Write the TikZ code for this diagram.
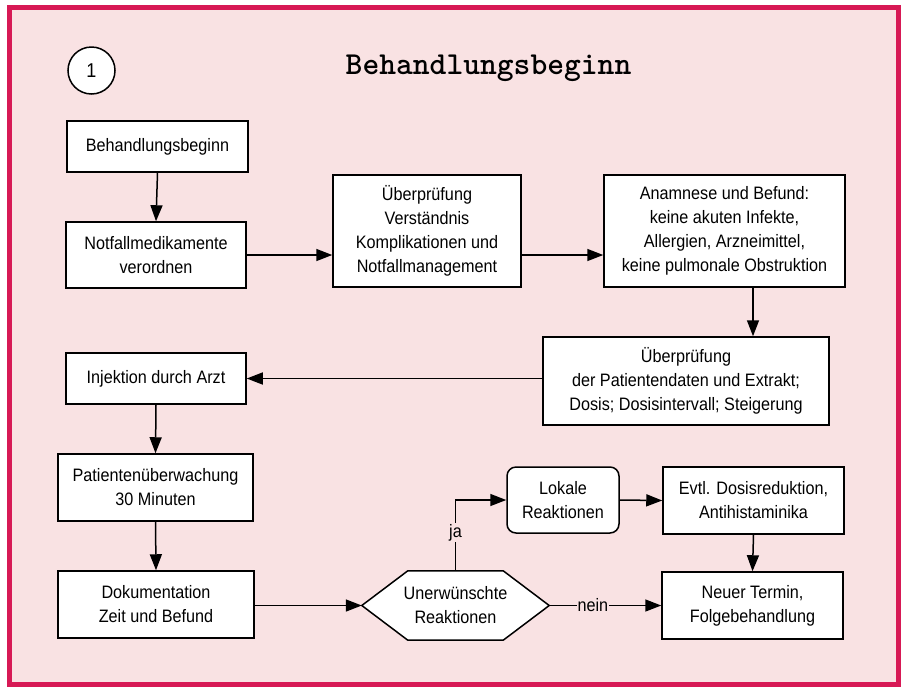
\documentclass[tikz,border=0pt]{standalone}
\usepackage{fontspec}
\setmainfont{Liberation Sans}[FakeStretch=0.9]
\usetikzlibrary{arrows.meta}
\definecolor{frame}{RGB}{215,25,85}
\definecolor{bgpink}{RGB}{249,226,227}
\tikzset{
  box/.style={draw=black, fill=white, line width=1.5pt, inner sep=0pt, align=center,
    font=\fontsize{18}{24}\selectfont},
  arr/.style={line width=1.5pt, -{Triangle[length=16pt,width=12pt]}},
  lbl/.style={fill=bgpink, inner sep=1pt, font=\fontsize{18}{24}\selectfont}
}
\begin{document}
\begin{tikzpicture}[x=1pt,y=-1pt]
\useasboundingbox (0,0) rectangle (901,686);
\fill[white] (0,0) rectangle (901,686);
\draw[frame, fill=bgpink, line width=5pt] (9.5,7.5) rectangle (898,684);

\node[draw, fill=white, circle, line width=1.5pt, minimum size=47pt, inner sep=0pt,
  font=\fontsize{20}{22}\selectfont] (num) at (91.5,70.5) {1};
\node[anchor=base, font=\fontsize{32}{36}\selectfont\ttfamily\bfseries] (title) at (488.5,74) {Behandlungsbeginn};

\node[box, minimum width=181pt, minimum height=51pt] (b1) at (157.5,146.5) {Behandlungsbeginn};
\node[box, minimum width=180pt, minimum height=66pt] (b2) at (156,255) {Notfallmedikamente\\verordnen};
\node[box, minimum width=188pt, minimum height=112pt] (b3) at (427,231) {Überprüfung\\Verständnis\\Komplikationen und\\Notfallmanagement};
\node[box, minimum width=241pt, minimum height=112pt] (b4) at (724.5,231) {Anamnese und Befund:\\keine akuten Infekte,\\Allergien, Arzneimittel,\\keine pulmonale Obstruktion};
\node[box, minimum width=286pt, minimum height=88pt] (b5) at (686,381) {Überprüfung\\der Patientendaten und Extrakt;\\Dosis; Dosisintervall; Steigerung};
\node[box, minimum width=180pt, minimum height=51pt] (b6) at (156,378.5) {Injektion durch Arzt};
\node[box, minimum width=195pt, minimum height=67pt] (b7) at (155.5,487.5) {Patientenüberwachung\\30 Minuten};
\node[box, minimum width=196pt, minimum height=67pt] (b8) at (156,604.5) {Dokumentation\\Zeit und Befund};

\node[minimum width=187pt, minimum height=69pt, inner sep=0pt] (hx) at (455.5,605.5) {};
\draw[line width=1.5pt, fill=white] (hx.west) -- ([xshift=46pt]hx.north west) -- ([xshift=-46pt]hx.north east)
  -- (hx.east) -- ([xshift=-46pt]hx.south east) -- ([xshift=46pt]hx.south west) -- cycle;
\node[align=center, font=\fontsize{18}{24}\selectfont] (hxt) at (hx) {Unerwünschte\\Reaktionen};

\node[box, rounded corners=9pt, minimum width=112pt, minimum height=66pt] (lk) at (563,500) {Lokale\\Reaktionen};
\node[box, minimum width=181pt, minimum height=67pt] (ev) at (753.5,500.5) {Evtl. Dosisreduktion,\\Antihistaminika};
\node[box, minimum width=181pt, minimum height=67pt] (nt) at (752.5,605.5) {Neuer Termin,\\Folgebehandlung};

\coordinate (c45) at (753,300);

\draw[arr] (b1.south) -- (b2.north);
\draw[arr] (b2.east) -- (b2.east -| b3.west);
\draw[arr] (b3.east |- b2.east) -- (b4.west |- b2.east);
\draw[arr] (c45 |- b4.south) -- (c45 |- b5.north);
\draw[arr] (b5.west |- b6.east) -- (b6.east);
\draw[arr] (b6.south) -- (b7.north);
\draw[arr] (b7.south) -- (b8.north);
\draw[arr] (b8.east |- hx.west) -- (hx.west);
\draw[arr] (hx.north) |- (lk.west) node[pos=0.27, lbl] {ja};
\draw[arr] (lk.east) -- (ev.west);
\draw[arr] (ev.south) -- (nt.north);
\draw[arr] (hx.east) -- (nt.west) node[pos=0.39, lbl] {nein};
\end{tikzpicture}
\end{document}
